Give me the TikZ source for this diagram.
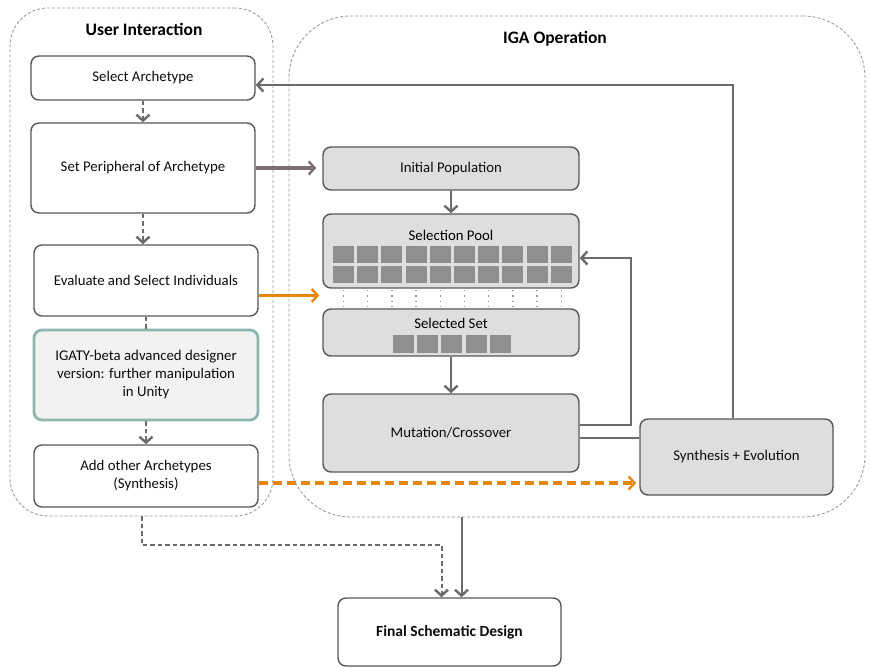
\documentclass[tikz,border=0pt]{standalone}
\usepackage{fontspec}
\setmainfont{Carlito}
\usetikzlibrary{arrows.meta,positioning}

\definecolor{boxline}{HTML}{575757}
\definecolor{boxfill}{HTML}{DEDEDE}
\definecolor{cellfill}{HTML}{8F8F8F}
\definecolor{linkgray}{HTML}{6B6B6B}
\definecolor{linkbrown}{HTML}{7B6F6F}
\definecolor{linkorange}{HTML}{E8870E}
\definecolor{tealline}{HTML}{8DB7AE}
\definecolor{framegray}{HTML}{9A9A9A}

\tikzset{
  userbox/.style={draw=boxline, line width=1.4pt, rounded corners=8pt, fill=white,
    align=center, text=black!95, inner sep=0pt, font=\fontsize{14.8}{18}\selectfont},
  igabox/.style={userbox, fill=boxfill},
  frame/.style={draw=framegray, line width=0.9pt, dash pattern=on 3pt off 2pt, inner sep=0pt},
  tip/.style={-{Straight Barb[length=6pt,width=13pt,line width=2.4pt]}},
  solidlink/.style={draw=linkgray, line width=2pt},
  dashlink/.style={draw=linkgray, line width=2pt, dash pattern=on 4.5pt off 3pt},
}

\begin{document}
\begin{tikzpicture}[x=1pt,y=-1pt]
\useasboundingbox (0,0) rectangle (870,668);

% containers
\node[frame, rounded corners=38pt, minimum width=263pt, minimum height=508pt] (uiframe) at (141.5,262) {};
\node[frame, rounded corners=62pt, minimum width=576pt, minimum height=501pt] (igaframe) at (577,266.5) {};
\node[font=\fontsize{17.5}{20}\selectfont\bfseries] (uititle) at (144,29) {User Interaction};
\node[font=\fontsize{17.5}{20}\selectfont\bfseries] (igatitle) at (555,39) {IGA Operation};

% user side
\node[userbox, minimum width=224pt, minimum height=44pt] (select) at (143,78) {Select Archetype};
\node[userbox, minimum width=224pt, minimum height=90pt] (periph) at (143,168) {Set Peripheral of Archetype};
\node[userbox, minimum width=224pt, minimum height=71pt] (evaluate) at (146,280.5) {Evaluate and Select Individuals};
\node[userbox, draw=tealline, line width=2.8pt, fill=black!5, minimum width=224pt, minimum height=90pt] (igaty) at (146,375)
  {IGATY-beta advanced designer\\version: further manipulation\\in Unity};
\node[userbox, minimum width=224pt, minimum height=62pt] (addother) at (146,476) {Add other Archetypes\\(Synthesis)};

% iga side
\node[igabox, minimum width=256pt, minimum height=43pt] (initpop) at (451,168.5) {Initial Population};
\node[igabox, minimum width=256pt, minimum height=74pt] (pool) at (451,251) {};
\node (pooltitle) at (451,235) {\fontsize{14.8}{18}\selectfont Selection Pool};
\node[igabox, minimum width=256pt, minimum height=47pt] (selset) at (451,332.5) {};
\node (selsettitle) at (451,323) {\fontsize{14.8}{18}\selectfont Selected Set};
\node[igabox, minimum width=256pt, minimum height=78pt] (mutation) at (451,433) {Mutation/Crossover};
\node[igabox, minimum width=193pt, minimum height=76pt] (synth) at (736.5,457) {Synthesis + Evolution};
\node[userbox, font=\fontsize{15.5}{18}\selectfont\bfseries, minimum width=223pt, minimum height=68pt] (final) at (449.5,632) {Final Schematic Design};

% cells
\foreach \i in {0,...,9} {
  \fill[cellfill] (333+24.2*\i,246) rectangle ++(21,17.5);
  \fill[cellfill] (333+24.2*\i,266) rectangle ++(21,17.5);
  \draw[framegray, line width=1.3pt, dash pattern=on 1.3pt off 4pt] (343.5+24.2*\i,290) -- (343.5+24.2*\i,307);
}
\foreach \i in {0,...,4}
  \fill[cellfill] (393+24.2*\i,335) rectangle ++(21,18);

% links
\draw[dashlink, tip] (select) -- (periph);
\draw[dashlink, tip] (periph.south) -- (periph.south |- evaluate.north);
\draw[dashlink] (evaluate) -- (igaty);
\draw[dashlink, tip] (igaty) -- (addother);
\draw[draw=linkbrown, line width=3.3pt, tip] (periph.east) -- ([xshift=-6pt]periph.east -| initpop.west);
\draw[solidlink, tip] (initpop) -- (pool);
\draw[solidlink, tip] (selset) -- (mutation);
\draw[draw=linkorange, line width=3.2pt, tip] ([yshift=-15pt]evaluate.east) -- ([yshift=-15pt,xshift=-3pt]evaluate.east -| pool.west);
\draw[draw=linkorange, line width=3.2pt, dash pattern=on 9pt off 5pt, tip] ([yshift=-7pt]addother.east) -- ([yshift=-7pt,xshift=-3pt]addother.east -| synth.west);
\draw[solidlink, tip] ([yshift=8pt]mutation.east) -- ++(51,0) |- ([yshift=-7pt]pool.east);
\draw[solidlink] ([yshift=-5pt]mutation.east) -- ([yshift=-5pt]mutation.east -| synth.west);
\draw[solidlink, tip] ([xshift=-4pt]synth.north) |- ([yshift=-7pt]select.east);
\draw[solidlink, tip] ([xshift=12pt]final.north |- igaframe.south) -- ([xshift=12pt]final.north);
\draw[dashlink, tip] (uiframe.south) -- ++(0,29) -| ([xshift=-8pt]final.north);

\end{tikzpicture}
\end{document}
